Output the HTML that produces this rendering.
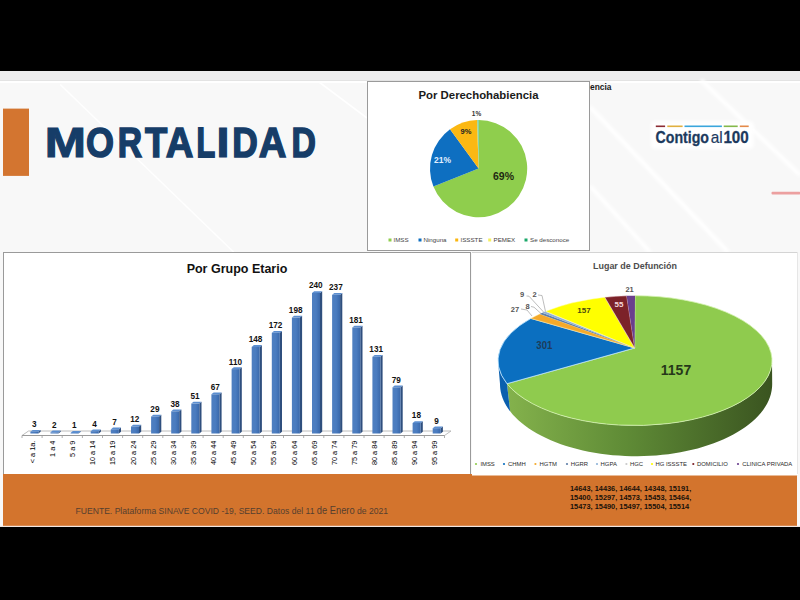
<!DOCTYPE html>
<html><head><meta charset="utf-8">
<style>
html,body{margin:0;padding:0;width:800px;height:600px;overflow:hidden;background:#000;}
body{position:relative;font-family:"Liberation Sans",sans-serif;}
.abs{position:absolute;white-space:nowrap;}
svg text{font-family:"Liberation Sans",sans-serif;}
</style></head>
<body>
<svg class="abs" style="left:0;top:0" width="800" height="600" viewBox="0 0 800 600">
  <defs>
    <linearGradient id="barg" x1="0" y1="0" x2="1" y2="0">
      <stop offset="0" stop-color="#4f7fc0"/>
      <stop offset="0.5" stop-color="#4a7cc0"/>
      <stop offset="1" stop-color="#3a68aa"/>
    </linearGradient>
    <linearGradient id="sideg" x1="0" y1="0" x2="1" y2="0">
      <stop offset="0" stop-color="#84b24c"/>
      <stop offset="0.45" stop-color="#5f8b36"/>
      <stop offset="1" stop-color="#3a5420"/>
    </linearGradient>
  </defs>
  <rect x="0" y="71" width="800" height="456" fill="#f8f8f8"/>
  <rect x="0" y="71" width="800" height="9" fill="#ededee"/>
  <rect x="0" y="80" width="800" height="1" fill="#e3e3e3"/>
  <rect x="0" y="81" width="800" height="2" fill="#ffffff"/>
  <defs><filter id="blr" x="-20%" y="-20%" width="140%" height="140%"><feGaussianBlur stdDeviation="1.5"/></filter></defs>
  <g stroke="#ffffff" stroke-width="1.6">
    <line x1="60.2" y1="84.5" x2="233.6" y2="252"/>
    <line x1="319" y1="82" x2="367" y2="118"/>
  </g>
  <g stroke="#ffffff" stroke-width="4" filter="url(#blr)">
    <line x1="590" y1="107" x2="728" y2="252"/>
    <line x1="590" y1="186" x2="650" y2="252"/>
    <line x1="701" y1="80" x2="800" y2="175"/>
  </g>
  <rect x="3" y="108.6" width="26" height="67.3" fill="#d37530"/>
  <rect x="651.5" y="121.5" width="102" height="27" rx="3" fill="#ffffff" filter="url(#blr)"/>
  <g>
    <rect x="655.8" y="125.5" width="9.3" height="1.6" fill="#8b2b33"/>
    <rect x="667.3" y="125.5" width="15.3" height="1.6" fill="#e0b040"/>
    <rect x="684.5" y="125.5" width="37.4" height="1.6" fill="#3aa6dc"/>
    <rect x="723.7" y="125.5" width="14" height="1.6" fill="#84b84a"/>
    <rect x="739.8" y="125.5" width="8.9" height="1.6" fill="#e48a4a"/>
  </g>
  <g font-size="16.6" fill="#1c3a5e">
    <text x="655.5" y="142.8" font-weight="bold" textLength="53.5" lengthAdjust="spacingAndGlyphs" stroke="#1c3a5e" stroke-width="0.3">Contigo</text>
    <text x="710.8" y="142.8" textLength="12" lengthAdjust="spacingAndGlyphs" stroke="#1c3a5e" stroke-width="0.2">al</text>
    <text x="723.4" y="142.8" font-weight="bold" textLength="25.3" lengthAdjust="spacingAndGlyphs" stroke="#1c3a5e" stroke-width="0.3">100</text>
  </g>
  <rect x="771.5" y="191.8" width="29" height="2.6" rx="1" fill="#eca0a0"/>
  <text transform="translate(44.84,156.8) scale(1.1508,1)" font-size="43.0" font-weight="bold" fill="#163d68" stroke="#163d68" stroke-width="1.130">M</text>
<text transform="translate(86.07,156.8) scale(0.8368,1)" font-size="43.0" font-weight="bold" fill="#163d68" stroke="#163d68" stroke-width="1.554">O</text>
<text transform="translate(117.69,156.8) scale(0.7840,1)" font-size="43.0" font-weight="bold" fill="#163d68" stroke="#163d68" stroke-width="1.658">R</text>
<text transform="translate(144.94,156.8) scale(0.8491,1)" font-size="43.0" font-weight="bold" fill="#163d68" stroke="#163d68" stroke-width="1.531">T</text>
<text transform="translate(165.70,156.8) scale(0.8909,1)" font-size="43.0" font-weight="bold" fill="#163d68" stroke="#163d68" stroke-width="1.459">A</text>
<text transform="translate(196.60,156.8) scale(0.7115,1)" font-size="43.0" font-weight="bold" fill="#163d68" stroke="#163d68" stroke-width="1.827">L</text>
<text transform="translate(216.54,156.8) scale(1.0817,1)" font-size="43.0" font-weight="bold" fill="#163d68" stroke="#163d68" stroke-width="1.202">I</text>
<text transform="translate(232.28,156.8) scale(0.8229,1)" font-size="43.0" font-weight="bold" fill="#163d68" stroke="#163d68" stroke-width="1.580">D</text>
<text transform="translate(258.70,156.8) scale(0.8909,1)" font-size="43.0" font-weight="bold" fill="#163d68" stroke="#163d68" stroke-width="1.459">A</text>
<text transform="translate(291.39,156.8) scale(0.7850,1)" font-size="43.0" font-weight="bold" fill="#163d68" stroke="#163d68" stroke-width="1.656">D</text>
  <!-- chart boxes -->
  <rect x="367.5" y="81.5" width="222" height="169" fill="#fff" stroke="#9a9a9a" stroke-width="1"/>
  <rect x="3.5" y="252.5" width="467" height="230" fill="#fff" stroke="#9a9a9a" stroke-width="1"/>
  <rect x="472" y="252" width="326" height="224" fill="#fff"/>
  <line x1="472" y1="252.5" x2="798" y2="252.5" stroke="#d4d4d4"/>
  <line x1="797.5" y1="252" x2="797.5" y2="476" stroke="#e6e6e6"/>

  <text x="590" y="89.75" font-size="9.5" font-weight="bold" fill="#1a1a1a" textLength="21.5" lengthAdjust="spacingAndGlyphs">encia</text>
  <!-- derechohabiencia -->
  <text x="418.5" y="99" font-size="11.4" font-weight="bold" fill="#1a1a1a" textLength="120" lengthAdjust="spacingAndGlyphs">Por Derechohabiencia</text>
  <path d="M478.6,168.6 L478.60,120.00 A48.6,48.6 0 1 1 433.41,186.49 Z" fill="#8fce4d"/>
<path d="M478.6,168.6 L433.41,186.49 A48.6,48.6 0 0 1 450.03,129.28 Z" fill="#0e6fc1"/>
<path d="M478.6,168.6 L450.03,129.28 A48.6,48.6 0 0 1 477.07,120.02 Z" fill="#fbb813"/>
<path d="M478.6,168.6 L477.07,120.02 A48.6,48.6 0 0 1 477.38,120.02 Z" fill="#ffff40"/>
<path d="M478.6,168.6 L477.38,120.02 A48.6,48.6 0 0 1 478.60,120.00 Z" fill="#5cc8a0"/>
  <text x="503.5" y="179.5" text-anchor="middle" font-size="10.5" font-weight="bold" fill="#1f2a12">69%</text>
  <text x="442.6" y="163" text-anchor="middle" font-size="8.5" font-weight="bold" fill="#e4f0ff">21%</text>
  <text x="466" y="133.8" text-anchor="middle" font-size="7.5" font-weight="bold" fill="#222">9%</text>
  <text x="476.5" y="116" text-anchor="middle" font-size="6.5" font-weight="bold" fill="#333">1%</text>
  <g font-size="6.2" fill="#444">
    <rect x="388.5" y="238.5" width="3" height="3" fill="#8fce4d"/><text x="393.5" y="242.3">IMSS</text>
    <rect x="418.5" y="238.5" width="3" height="3" fill="#0e6fc1"/><text x="423.5" y="242.3">Ninguna</text>
    <rect x="455.2" y="238.5" width="3" height="3" fill="#fbb60f"/><text x="460.5" y="242.3">ISSSTE</text>
    <rect x="488.2" y="238.5" width="3" height="3" fill="#f4f060"/><text x="493.5" y="242.3">PEMEX</text>
    <rect x="524.5" y="238.5" width="3" height="3" fill="#1aa86a"/><text x="530" y="242.3">Se desconoce</text>
  </g>

  <!-- bar chart -->
  <text x="237" y="273" text-anchor="middle" font-size="12.5" font-weight="bold" fill="#111">Por Grupo Etario</text>
  <path d="M22.0,435.5 L444.5,435.5 L451.0,431.0 L28.5,431.0 Z" fill="#ffffff" stroke="#b4b4b4" stroke-width="0.9"/>
<line x1="22.0" y1="435.5" x2="444.5" y2="435.5" stroke="#9a9a9a" stroke-width="1"/>
<line x1="22.0" y1="435.5" x2="22.0" y2="438.0" stroke="#9a9a9a" stroke-width="0.8"/>
<line x1="42.1" y1="435.5" x2="42.1" y2="438.0" stroke="#9a9a9a" stroke-width="0.8"/>
<line x1="62.2" y1="435.5" x2="62.2" y2="438.0" stroke="#9a9a9a" stroke-width="0.8"/>
<line x1="82.4" y1="435.5" x2="82.4" y2="438.0" stroke="#9a9a9a" stroke-width="0.8"/>
<line x1="102.5" y1="435.5" x2="102.5" y2="438.0" stroke="#9a9a9a" stroke-width="0.8"/>
<line x1="122.6" y1="435.5" x2="122.6" y2="438.0" stroke="#9a9a9a" stroke-width="0.8"/>
<line x1="142.7" y1="435.5" x2="142.7" y2="438.0" stroke="#9a9a9a" stroke-width="0.8"/>
<line x1="162.8" y1="435.5" x2="162.8" y2="438.0" stroke="#9a9a9a" stroke-width="0.8"/>
<line x1="183.0" y1="435.5" x2="183.0" y2="438.0" stroke="#9a9a9a" stroke-width="0.8"/>
<line x1="203.1" y1="435.5" x2="203.1" y2="438.0" stroke="#9a9a9a" stroke-width="0.8"/>
<line x1="223.2" y1="435.5" x2="223.2" y2="438.0" stroke="#9a9a9a" stroke-width="0.8"/>
<line x1="243.3" y1="435.5" x2="243.3" y2="438.0" stroke="#9a9a9a" stroke-width="0.8"/>
<line x1="263.4" y1="435.5" x2="263.4" y2="438.0" stroke="#9a9a9a" stroke-width="0.8"/>
<line x1="283.5" y1="435.5" x2="283.5" y2="438.0" stroke="#9a9a9a" stroke-width="0.8"/>
<line x1="303.7" y1="435.5" x2="303.7" y2="438.0" stroke="#9a9a9a" stroke-width="0.8"/>
<line x1="323.8" y1="435.5" x2="323.8" y2="438.0" stroke="#9a9a9a" stroke-width="0.8"/>
<line x1="343.9" y1="435.5" x2="343.9" y2="438.0" stroke="#9a9a9a" stroke-width="0.8"/>
<line x1="364.0" y1="435.5" x2="364.0" y2="438.0" stroke="#9a9a9a" stroke-width="0.8"/>
<line x1="384.1" y1="435.5" x2="384.1" y2="438.0" stroke="#9a9a9a" stroke-width="0.8"/>
<line x1="404.3" y1="435.5" x2="404.3" y2="438.0" stroke="#9a9a9a" stroke-width="0.8"/>
<line x1="424.4" y1="435.5" x2="424.4" y2="438.0" stroke="#9a9a9a" stroke-width="0.8"/>
<line x1="444.5" y1="435.5" x2="444.5" y2="438.0" stroke="#9a9a9a" stroke-width="0.8"/>
<path d="M38.4,433.5 L38.4,431.7 L40.6,429.9 L40.6,431.7 Z" fill="#2f4f7e"/>
<path d="M30.4,431.7 L38.4,431.7 L40.6,429.9 L32.6,429.9 Z" fill="#5b8ed0"/>
<rect x="30.4" y="431.7" width="8.0" height="1.8" fill="url(#barg)"/>
<text x="34.2" y="427.1" text-anchor="middle" font-size="8.2" font-weight="bold" fill="#111">3</text>
<text transform="translate(32.9,440.6) rotate(-90) scale(0.92,1)" text-anchor="end" font-size="8" fill="#000" dominant-baseline="middle">< a 1a.</text>
<path d="M58.5,433.5 L58.5,432.3 L60.7,430.5 L60.7,431.7 Z" fill="#2f4f7e"/>
<path d="M50.5,432.3 L58.5,432.3 L60.7,430.5 L52.7,430.5 Z" fill="#5b8ed0"/>
<rect x="50.5" y="432.3" width="8.0" height="1.2" fill="url(#barg)"/>
<text x="54.3" y="427.7" text-anchor="middle" font-size="8.2" font-weight="bold" fill="#111">2</text>
<text transform="translate(53.0,440.6) rotate(-90) scale(0.92,1)" text-anchor="end" font-size="8" fill="#000" dominant-baseline="middle">1 a 4</text>
<path d="M78.6,433.5 L78.6,432.9 L80.8,431.1 L80.8,431.7 Z" fill="#2f4f7e"/>
<path d="M70.6,432.9 L78.6,432.9 L80.8,431.1 L72.8,431.1 Z" fill="#5b8ed0"/>
<rect x="70.6" y="432.9" width="8.0" height="0.6" fill="url(#barg)"/>
<text x="74.4" y="428.3" text-anchor="middle" font-size="8.2" font-weight="bold" fill="#111">1</text>
<text transform="translate(73.1,440.6) rotate(-90) scale(0.92,1)" text-anchor="end" font-size="8" fill="#000" dominant-baseline="middle">5 a 9</text>
<path d="M98.7,433.5 L98.7,431.2 L100.9,429.4 L100.9,431.7 Z" fill="#2f4f7e"/>
<path d="M90.7,431.2 L98.7,431.2 L100.9,429.4 L92.9,429.4 Z" fill="#5b8ed0"/>
<rect x="90.7" y="431.2" width="8.0" height="2.3" fill="url(#barg)"/>
<text x="94.5" y="426.6" text-anchor="middle" font-size="8.2" font-weight="bold" fill="#111">4</text>
<text transform="translate(93.2,440.6) rotate(-90) scale(0.92,1)" text-anchor="end" font-size="8" fill="#000" dominant-baseline="middle">10 a 14</text>
<path d="M118.8,433.5 L118.8,429.4 L121.0,427.6 L121.0,431.7 Z" fill="#2f4f7e"/>
<path d="M110.8,429.4 L118.8,429.4 L121.0,427.6 L113.0,427.6 Z" fill="#5b8ed0"/>
<rect x="110.8" y="429.4" width="8.0" height="4.1" fill="url(#barg)"/>
<text x="114.6" y="424.8" text-anchor="middle" font-size="8.2" font-weight="bold" fill="#111">7</text>
<text transform="translate(113.3,440.6) rotate(-90) scale(0.92,1)" text-anchor="end" font-size="8" fill="#000" dominant-baseline="middle">15 a 19</text>
<path d="M139.0,433.5 L139.0,426.5 L141.2,424.7 L141.2,431.7 Z" fill="#2f4f7e"/>
<path d="M131.0,426.5 L139.0,426.5 L141.2,424.7 L133.2,424.7 Z" fill="#5b8ed0"/>
<rect x="131.0" y="426.5" width="8.0" height="7.0" fill="url(#barg)"/>
<text x="134.8" y="421.9" text-anchor="middle" font-size="8.2" font-weight="bold" fill="#111">12</text>
<text transform="translate(133.5,440.6) rotate(-90) scale(0.92,1)" text-anchor="end" font-size="8" fill="#000" dominant-baseline="middle">20 a 24</text>
<path d="M159.1,433.5 L159.1,416.5 L161.3,414.7 L161.3,431.7 Z" fill="#2f4f7e"/>
<path d="M151.1,416.5 L159.1,416.5 L161.3,414.7 L153.3,414.7 Z" fill="#5b8ed0"/>
<rect x="151.1" y="416.5" width="8.0" height="17.0" fill="url(#barg)"/>
<text x="154.9" y="411.9" text-anchor="middle" font-size="8.2" font-weight="bold" fill="#111">29</text>
<text transform="translate(153.6,440.6) rotate(-90) scale(0.92,1)" text-anchor="end" font-size="8" fill="#000" dominant-baseline="middle">25 a 29</text>
<path d="M179.2,433.5 L179.2,411.3 L181.4,409.5 L181.4,431.7 Z" fill="#2f4f7e"/>
<path d="M171.2,411.3 L179.2,411.3 L181.4,409.5 L173.4,409.5 Z" fill="#5b8ed0"/>
<rect x="171.2" y="411.3" width="8.0" height="22.2" fill="url(#barg)"/>
<text x="175.0" y="406.7" text-anchor="middle" font-size="8.2" font-weight="bold" fill="#111">38</text>
<text transform="translate(173.7,440.6) rotate(-90) scale(0.92,1)" text-anchor="end" font-size="8" fill="#000" dominant-baseline="middle">30 a 34</text>
<path d="M199.3,433.5 L199.3,403.6 L201.5,401.8 L201.5,431.7 Z" fill="#2f4f7e"/>
<path d="M191.3,403.6 L199.3,403.6 L201.5,401.8 L193.5,401.8 Z" fill="#5b8ed0"/>
<rect x="191.3" y="403.6" width="8.0" height="29.9" fill="url(#barg)"/>
<text x="195.1" y="399.0" text-anchor="middle" font-size="8.2" font-weight="bold" fill="#111">51</text>
<text transform="translate(193.8,440.6) rotate(-90) scale(0.92,1)" text-anchor="end" font-size="8" fill="#000" dominant-baseline="middle">35 a 39</text>
<path d="M219.4,433.5 L219.4,394.3 L221.6,392.5 L221.6,431.7 Z" fill="#2f4f7e"/>
<path d="M211.4,394.3 L219.4,394.3 L221.6,392.5 L213.6,392.5 Z" fill="#5b8ed0"/>
<rect x="211.4" y="394.3" width="8.0" height="39.2" fill="url(#barg)"/>
<text x="215.2" y="389.7" text-anchor="middle" font-size="8.2" font-weight="bold" fill="#111">67</text>
<text transform="translate(213.9,440.6) rotate(-90) scale(0.92,1)" text-anchor="end" font-size="8" fill="#000" dominant-baseline="middle">40 a 44</text>
<path d="M239.6,433.5 L239.6,369.1 L241.8,367.3 L241.8,431.7 Z" fill="#2f4f7e"/>
<path d="M231.6,369.1 L239.6,369.1 L241.8,367.3 L233.8,367.3 Z" fill="#5b8ed0"/>
<rect x="231.6" y="369.1" width="8.0" height="64.4" fill="url(#barg)"/>
<text x="235.4" y="364.5" text-anchor="middle" font-size="8.2" font-weight="bold" fill="#111">110</text>
<text transform="translate(234.1,440.6) rotate(-90) scale(0.92,1)" text-anchor="end" font-size="8" fill="#000" dominant-baseline="middle">45 a 49</text>
<path d="M259.7,433.5 L259.7,346.9 L261.9,345.1 L261.9,431.7 Z" fill="#2f4f7e"/>
<path d="M251.7,346.9 L259.7,346.9 L261.9,345.1 L253.9,345.1 Z" fill="#5b8ed0"/>
<rect x="251.7" y="346.9" width="8.0" height="86.6" fill="url(#barg)"/>
<text x="255.5" y="342.3" text-anchor="middle" font-size="8.2" font-weight="bold" fill="#111">148</text>
<text transform="translate(254.2,440.6) rotate(-90) scale(0.92,1)" text-anchor="end" font-size="8" fill="#000" dominant-baseline="middle">50 a 54</text>
<path d="M279.8,433.5 L279.8,332.8 L282.0,331.0 L282.0,431.7 Z" fill="#2f4f7e"/>
<path d="M271.8,332.8 L279.8,332.8 L282.0,331.0 L274.0,331.0 Z" fill="#5b8ed0"/>
<rect x="271.8" y="332.8" width="8.0" height="100.7" fill="url(#barg)"/>
<text x="275.6" y="328.2" text-anchor="middle" font-size="8.2" font-weight="bold" fill="#111">172</text>
<text transform="translate(274.3,440.6) rotate(-90) scale(0.92,1)" text-anchor="end" font-size="8" fill="#000" dominant-baseline="middle">55 a 59</text>
<path d="M299.9,433.5 L299.9,317.6 L302.1,315.8 L302.1,431.7 Z" fill="#2f4f7e"/>
<path d="M291.9,317.6 L299.9,317.6 L302.1,315.8 L294.1,315.8 Z" fill="#5b8ed0"/>
<rect x="291.9" y="317.6" width="8.0" height="115.9" fill="url(#barg)"/>
<text x="295.7" y="313.0" text-anchor="middle" font-size="8.2" font-weight="bold" fill="#111">198</text>
<text transform="translate(294.4,440.6) rotate(-90) scale(0.92,1)" text-anchor="end" font-size="8" fill="#000" dominant-baseline="middle">60 a 64</text>
<path d="M320.0,433.5 L320.0,293.0 L322.2,291.2 L322.2,431.7 Z" fill="#2f4f7e"/>
<path d="M312.0,293.0 L320.0,293.0 L322.2,291.2 L314.2,291.2 Z" fill="#5b8ed0"/>
<rect x="312.0" y="293.0" width="8.0" height="140.5" fill="url(#barg)"/>
<text x="315.8" y="288.4" text-anchor="middle" font-size="8.2" font-weight="bold" fill="#111">240</text>
<text transform="translate(314.5,440.6) rotate(-90) scale(0.92,1)" text-anchor="end" font-size="8" fill="#000" dominant-baseline="middle">65 a 69</text>
<path d="M340.1,433.5 L340.1,294.8 L342.3,293.0 L342.3,431.7 Z" fill="#2f4f7e"/>
<path d="M332.1,294.8 L340.1,294.8 L342.3,293.0 L334.3,293.0 Z" fill="#5b8ed0"/>
<rect x="332.1" y="294.8" width="8.0" height="138.7" fill="url(#barg)"/>
<text x="335.9" y="290.2" text-anchor="middle" font-size="8.2" font-weight="bold" fill="#111">237</text>
<text transform="translate(334.6,440.6) rotate(-90) scale(0.92,1)" text-anchor="end" font-size="8" fill="#000" dominant-baseline="middle">70 a 74</text>
<path d="M360.3,433.5 L360.3,327.5 L362.5,325.7 L362.5,431.7 Z" fill="#2f4f7e"/>
<path d="M352.3,327.5 L360.3,327.5 L362.5,325.7 L354.5,325.7 Z" fill="#5b8ed0"/>
<rect x="352.3" y="327.5" width="8.0" height="106.0" fill="url(#barg)"/>
<text x="356.1" y="322.9" text-anchor="middle" font-size="8.2" font-weight="bold" fill="#111">181</text>
<text transform="translate(354.8,440.6) rotate(-90) scale(0.92,1)" text-anchor="end" font-size="8" fill="#000" dominant-baseline="middle">75 a 79</text>
<path d="M380.4,433.5 L380.4,356.8 L382.6,355.0 L382.6,431.7 Z" fill="#2f4f7e"/>
<path d="M372.4,356.8 L380.4,356.8 L382.6,355.0 L374.6,355.0 Z" fill="#5b8ed0"/>
<rect x="372.4" y="356.8" width="8.0" height="76.7" fill="url(#barg)"/>
<text x="376.2" y="352.2" text-anchor="middle" font-size="8.2" font-weight="bold" fill="#111">131</text>
<text transform="translate(374.9,440.6) rotate(-90) scale(0.92,1)" text-anchor="end" font-size="8" fill="#000" dominant-baseline="middle">80 a 84</text>
<path d="M400.5,433.5 L400.5,387.3 L402.7,385.5 L402.7,431.7 Z" fill="#2f4f7e"/>
<path d="M392.5,387.3 L400.5,387.3 L402.7,385.5 L394.7,385.5 Z" fill="#5b8ed0"/>
<rect x="392.5" y="387.3" width="8.0" height="46.2" fill="url(#barg)"/>
<text x="396.3" y="382.7" text-anchor="middle" font-size="8.2" font-weight="bold" fill="#111">79</text>
<text transform="translate(395.0,440.6) rotate(-90) scale(0.92,1)" text-anchor="end" font-size="8" fill="#000" dominant-baseline="middle">85 a 89</text>
<path d="M420.6,433.5 L420.6,423.0 L422.8,421.2 L422.8,431.7 Z" fill="#2f4f7e"/>
<path d="M412.6,423.0 L420.6,423.0 L422.8,421.2 L414.8,421.2 Z" fill="#5b8ed0"/>
<rect x="412.6" y="423.0" width="8.0" height="10.5" fill="url(#barg)"/>
<text x="416.4" y="418.4" text-anchor="middle" font-size="8.2" font-weight="bold" fill="#111">18</text>
<text transform="translate(415.1,440.6) rotate(-90) scale(0.92,1)" text-anchor="end" font-size="8" fill="#000" dominant-baseline="middle">90 a 94</text>
<path d="M440.7,433.5 L440.7,428.2 L442.9,426.4 L442.9,431.7 Z" fill="#2f4f7e"/>
<path d="M432.7,428.2 L440.7,428.2 L442.9,426.4 L434.9,426.4 Z" fill="#5b8ed0"/>
<rect x="432.7" y="428.2" width="8.0" height="5.3" fill="url(#barg)"/>
<text x="436.5" y="423.6" text-anchor="middle" font-size="8.2" font-weight="bold" fill="#111">9</text>
<text transform="translate(435.2,440.6) rotate(-90) scale(0.92,1)" text-anchor="end" font-size="8" fill="#000" dominant-baseline="middle">95 a 99</text>

  <!-- lugar -->
  <text x="593" y="268.8" font-size="9.8" font-weight="bold" fill="#4d4d4d" textLength="84" lengthAdjust="spacingAndGlyphs">Lugar de Defunción</text>
  <path d="M772.00,360.60 L771.85,363.60 L771.41,366.60 L770.68,369.58 L769.66,372.55 L768.35,375.49 L766.75,378.40 L764.87,381.26 L762.71,384.09 L760.28,386.86 L757.58,389.58 L754.62,392.24 L751.40,394.83 L747.93,397.34 L744.22,399.78 L740.28,402.13 L736.11,404.39 L731.72,406.56 L727.13,408.64 L722.33,410.60 L717.36,412.46 L712.20,414.21 L706.88,415.85 L701.41,417.37 L695.79,418.76 L690.04,420.03 L684.18,421.17 L678.21,422.19 L672.15,423.07 L666.00,423.82 L659.80,424.43 L653.53,424.90 L647.23,425.24 L640.90,425.44 L634.56,425.50 L628.22,425.42 L621.90,425.20 L615.60,424.85 L609.35,424.35 L603.15,423.72 L597.02,422.96 L590.96,422.06 L585.01,421.02 L579.16,419.86 L573.43,418.58 L567.83,417.16 L562.38,415.63 L557.08,413.98 L551.95,412.22 L547.00,410.34 L542.23,408.36 L537.67,406.27 L533.31,404.09 L529.17,401.81 L525.26,399.45 L521.58,397.00 L518.14,394.48 L514.96,391.88 L512.03,389.21 L509.37,386.49 L506.98,383.70 L510.15,411.36 L512.65,414.39 L515.41,417.37 L518.42,420.27 L521.68,423.09 L525.18,425.84 L528.91,428.49 L532.87,431.05 L537.05,433.51 L541.43,435.87 L546.02,438.12 L550.79,440.26 L555.75,442.27 L560.87,444.17 L566.15,445.93 L571.58,447.57 L577.14,449.07 L582.83,450.44 L588.63,451.67 L594.53,452.75 L600.52,453.69 L606.58,454.48 L612.71,455.13 L618.88,455.62 L625.09,455.96 L631.32,456.16 L637.57,456.20 L643.81,456.08 L650.03,455.82 L656.23,455.41 L662.38,454.84 L668.48,454.13 L674.51,453.27 L680.46,452.26 L686.31,451.11 L692.06,449.81 L697.69,448.38 L703.19,446.82 L708.55,445.12 L713.76,443.29 L718.81,441.34 L723.68,439.27 L728.36,437.08 L732.86,434.78 L737.14,432.37 L741.22,429.86 L745.07,427.25 L748.70,424.56 L752.09,421.77 L755.23,418.91 L758.12,415.98 L760.76,412.97 L763.13,409.91 L765.24,406.79 L767.08,403.63 L768.63,400.42 L769.91,397.18 L770.91,393.91 L771.63,390.62 L772.06,387.31 L772.20,384.00 Z" fill="url(#sideg)"/>
<path d="M506.98,383.70 L506.68,383.34 L506.39,382.97 L506.11,382.60 L505.83,382.23 L505.56,381.85 L505.29,381.48 L505.02,381.11 L504.76,380.74 L504.50,380.36 L504.25,379.99 L504.01,379.61 L503.77,379.23 L503.53,378.85 L503.30,378.48 L503.07,378.10 L502.85,377.72 L502.63,377.34 L502.42,376.96 L502.22,376.58 L502.01,376.19 L501.82,375.81 L501.62,375.43 L501.44,375.05 L501.25,374.66 L501.08,374.28 L500.90,373.89 L500.74,373.51 L500.57,373.12 L500.42,372.73 L500.26,372.35 L500.11,371.96 L499.97,371.57 L499.83,371.18 L499.70,370.79 L499.57,370.41 L499.45,370.02 L499.33,369.63 L499.22,369.24 L499.11,368.85 L499.01,368.45 L498.91,368.06 L498.82,367.67 L498.73,367.28 L498.64,366.89 L498.57,366.50 L498.49,366.11 L498.43,365.71 L498.36,365.32 L498.30,364.93 L498.25,364.53 L498.20,364.14 L498.16,363.75 L498.12,363.36 L498.09,362.96 L498.06,362.57 L498.04,362.17 L498.02,361.78 L498.01,361.39 L498.00,360.99 L498.00,360.60 L500.00,384.00 L500.00,384.47 L500.01,384.94 L500.03,385.40 L500.05,385.87 L500.07,386.34 L500.10,386.81 L500.14,387.27 L500.18,387.74 L500.23,388.21 L500.29,388.67 L500.35,389.14 L500.41,389.61 L500.48,390.07 L500.56,390.54 L500.64,391.00 L500.73,391.47 L500.82,391.93 L500.92,392.40 L501.03,392.86 L501.14,393.33 L501.26,393.79 L501.38,394.25 L501.51,394.72 L501.64,395.18 L501.78,395.64 L501.93,396.10 L502.08,396.56 L502.23,397.02 L502.39,397.48 L502.56,397.94 L502.73,398.40 L502.91,398.86 L503.10,399.32 L503.29,399.77 L503.48,400.23 L503.68,400.68 L503.89,401.14 L504.10,401.59 L504.32,402.05 L504.54,402.50 L504.77,402.95 L505.01,403.40 L505.25,403.85 L505.49,404.30 L505.74,404.75 L506.00,405.20 L506.26,405.64 L506.53,406.09 L506.80,406.53 L507.08,406.98 L507.36,407.42 L507.65,407.86 L507.94,408.30 L508.24,408.74 L508.55,409.18 L508.86,409.62 L509.17,410.06 L509.49,410.49 L509.82,410.93 L510.15,411.36 Z" fill="#0a5fae"/>
<path d="M634.7,348.0 L635.00,295.70 A137.0,64.9 0 1 1 506.98,383.70 Z" fill="#8fcb4e" stroke="#d4f2b0" stroke-width="1.0" stroke-opacity="0.8"/>
<path d="M634.7,348.0 L506.98,383.70 A137.0,64.9 0 0 1 530.85,318.44 Z" fill="#0b6fc0" stroke="#bfe6ff" stroke-width="1.0" stroke-opacity="0.8"/>
<path d="M634.7,348.0 L530.85,318.44 A137.0,64.9 0 0 1 539.83,313.92 Z" fill="#f4a92a" stroke="#ffe9a0" stroke-width="0.6" stroke-opacity="0.8"/>
<path d="M634.7,348.0 L539.83,313.92 A137.0,64.9 0 0 1 542.28,312.82 Z" fill="#5e7fa8" stroke="none" stroke-width="0" stroke-opacity="0.8"/>
<path d="M634.7,348.0 L542.28,312.82 A137.0,64.9 0 0 1 545.11,311.62 Z" fill="#8fb3d8" stroke="none" stroke-width="0" stroke-opacity="0.8"/>
<path d="M634.7,348.0 L545.11,311.62 A137.0,64.9 0 0 1 545.75,311.36 Z" fill="#c9c9c9" stroke="none" stroke-width="0" stroke-opacity="0.8"/>
<path d="M634.7,348.0 L545.75,311.36 A137.0,64.9 0 0 1 604.84,297.29 Z" fill="#ffff00" stroke="#ffffc0" stroke-width="0.6" stroke-opacity="0.8"/>
<path d="M634.7,348.0 L604.84,297.29 A137.0,64.9 0 0 1 626.64,295.82 Z" fill="#7c2229" stroke="#f0d0d8" stroke-width="0.6" stroke-opacity="0.8"/>
<path d="M634.7,348.0 L626.64,295.82 A137.0,64.9 0 0 1 635.00,295.70 Z" fill="#6a3f8d" stroke="none" stroke-width="0" stroke-opacity="0.8"/>
  <g fill="none" stroke="#a0a0a0" stroke-width="0.7">
    <polyline points="521,309 527,310 532,316"/>
    <polyline points="531,306.5 534,307.2 541,313.5"/>
    <polyline points="526.5,296 529,296.2 544,312.5"/>
    <polyline points="538,295 542,295.5 545.5,311.5"/>
  </g>
  <g font-size="7.5" font-weight="bold" fill="#555" text-anchor="middle">
    <text x="515" y="312">27</text>
    <text x="527.5" y="309">8</text>
    <text x="522" y="297">9</text>
    <text x="534.5" y="297">2</text>
    <text x="629.6" y="291.8">21</text>
  </g>
  <text x="618.9" y="306.8" text-anchor="middle" font-size="8" font-weight="bold" fill="#f4d8dc">55</text>
  <text x="584" y="313" text-anchor="middle" font-size="8" font-weight="bold" fill="#4a4a10">157</text>
  <text x="536.3" y="348.7" font-size="11.2" font-weight="bold" fill="#1e3c5a" textLength="16" lengthAdjust="spacingAndGlyphs">301</text>
  <text x="676" y="375" text-anchor="middle" font-size="14" font-weight="bold" fill="#26381a">1157</text>
  <g font-size="5.9" fill="#2a2a2a" font-weight="normal">
    <circle cx="476" cy="464" r="1.1" fill="#8fcb4e"/><text x="480.4" y="466.3">IMSS</text>
    <circle cx="504" cy="464" r="1.1" fill="#0b6fc0"/><text x="508" y="466.3">CHMH</text>
    <circle cx="535.4" cy="464" r="1.1" fill="#f4a92a"/><text x="539.6" y="466.3">HGTM</text>
    <circle cx="567" cy="464" r="1.1" fill="#5e7fa8"/><text x="570.7" y="466.3">HGRR</text>
    <circle cx="597" cy="464" r="1.1" fill="#8fb3d8"/><text x="600.6" y="466.3">HGPA</text>
    <circle cx="626.4" cy="464" r="1.1" fill="#c9c9c9"/><text x="630" y="466.3">HGC</text>
    <circle cx="652" cy="464" r="1.1" fill="#ffff00"/><text x="655.5" y="466.3">HG ISSSTE</text>
    <circle cx="693.3" cy="464" r="1.1" fill="#7c2229"/><text x="697" y="466.3">DOMICILIO</text>
    <circle cx="738" cy="464" r="1.1" fill="#6a3f8d"/><text x="742.3" y="466.3">CLINICA PRIVADA</text>
  </g>

  <!-- footer -->
  <rect x="3" y="474" width="794" height="52" fill="#d3742d"/>
  <rect x="472" y="474" width="326" height="1.5" fill="#ffffff"/>
  <rect x="0" y="525.8" width="800" height="1.2" fill="#f2e6de"/>
  <text transform="translate(75.5,514) scale(0.915,1)" font-size="9.4" fill="#553f2f">FUENTE. Plataforma SINAVE COVID -19, SEED. Datos del 11 <tspan font-size="10.2">de Enero</tspan> de 2021</text>
  <g font-size="7.4" font-weight="bold" fill="#1a120a">
    <text x="570" y="491">14643, 14436, 14644, 14348, 15191,</text>
    <text x="570" y="500">15400, 15297, 14573, 15453, 15464,</text>
    <text x="570" y="509">15473, 15490, 15497, 15504, 15514</text>
  </g>
</svg>


</body></html>
